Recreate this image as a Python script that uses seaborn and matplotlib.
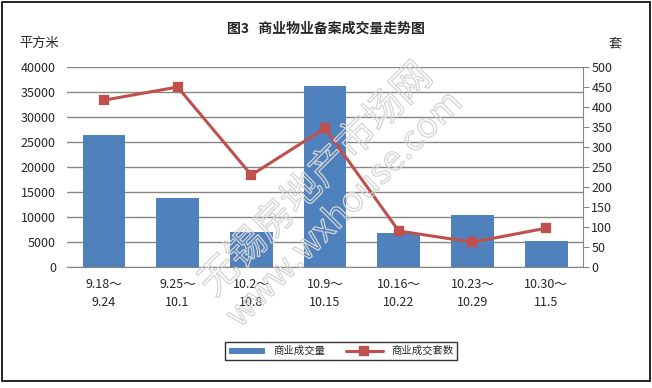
import matplotlib
matplotlib.use("Agg")
import matplotlib.pyplot as plt
import matplotlib.patheffects as pe
import pandas as pd
import seaborn as sns
from matplotlib.patches import Rectangle

weeks = ["9.18～\n9.24", "9.25～\n10.1", "10.2～\n10.8", "10.9～\n10.15",
         "10.16～\n10.22", "10.23～\n10.29", "10.30～\n11.5"]
area = [26400, 13800, 7000, 36200, 6800, 10400, 5200]      # 商业成交量 (平方米)
units = [417, 450, 230, 347, 90, 62, 97]                    # 商业成交套数 (套)

df = pd.DataFrame({"week": weeks, "area": area, "units": units})

sns.set_style("white")
plt.rcParams["font.family"] = ["Noto Sans CJK SC", "DejaVu Sans"]

fig = plt.figure(figsize=(6.52, 3.88), dpi=100)
ax = fig.add_axes([0.1028, 0.3119, 0.7914, 0.5154])
grey = "#868686"

sns.barplot(data=df, x="week", y="area", color="#4F81BD", width=0.58,
            saturation=1, linewidth=0, ax=ax, label="商业成交量")
ax.set_ylim(0, 40000)
ax.set_yticks(range(0, 40001, 5000))
ax.yaxis.grid(True, color=grey, linewidth=1)
ax.set_axisbelow(True)
ax.set_xlabel("")
ax.set_ylabel("")
for s in ["top", "right", "left"]:
    ax.spines[s].set_visible(False)
ax.spines["bottom"].set_color(grey)
ax.tick_params(axis="y", length=0, labelsize=9, pad=8)
ax.tick_params(axis="x", length=0, labelsize=9, pad=8)
ax.set_xticks(range(len(weeks)))
ax.set_xticklabels(weeks, linespacing=1.5)

ax2 = ax.twinx()
sns.pointplot(data=df, x="week", y="units", color="#C0504D", marker="s",
              markersize=6, linewidth=2.2, ax=ax2, label="商业成交套数",
              legend=False)
ax2.set_ylim(0, 500)
ax2.set_yticks(range(0, 501, 50))
ax2.set_ylabel("")
ax2.set_xlabel("")
for s in ["top", "left", "bottom"]:
    ax2.spines[s].set_visible(False)
ax2.spines["right"].set_color(grey)
ax2.tick_params(axis="y", direction="out", length=4, color=grey, labelsize=9, pad=2, right=True)
ax2.grid(False)

h1, l1 = ax.get_legend_handles_labels()
h2, l2 = ax2.get_legend_handles_labels()
for a in (ax, ax2):
    if a.get_legend() is not None:
        a.get_legend().remove()

fig.text(0.5, 0.925, "图3   商业物业备案成交量走势图", ha="center", va="center",
         fontsize=10, fontweight="bold")
fig.text(0.03, 0.887, "平方米", ha="left", va="center", fontsize=9.5)
fig.text(0.943, 0.887, "套", ha="center", va="center", fontsize=9.5)

# faint outlined watermark
wm = [pe.withStroke(linewidth=0.9, foreground="#d4d4d4")]
fig.text(0.485, 0.536, "无锡房地产市场网", rotation=45, ha="center", va="center",
         fontsize=28, color="none", path_effects=wm, zorder=10)
fig.text(0.529, 0.459, "www.wxhouse.com", rotation=45, ha="center", va="center",
         fontsize=25, color="none", path_effects=wm, zorder=10)

leg = fig.legend(h1 + h2, l1 + l2, loc="center", bbox_to_anchor=(0.523, 0.095),
                 ncol=2, fontsize=7.5, frameon=True, fancybox=False,
                 edgecolor="black", handlelength=3.5, handleheight=0.5,
                 columnspacing=2.0, borderpad=0.4)
leg.get_frame().set_linewidth(1)

fig.patches.append(Rectangle((0.003, 0.018), 0.994, 0.977, transform=fig.transFigure,
                             fill=False, edgecolor="black", linewidth=1.2))

fig.savefig("out.png", dpi=100)
